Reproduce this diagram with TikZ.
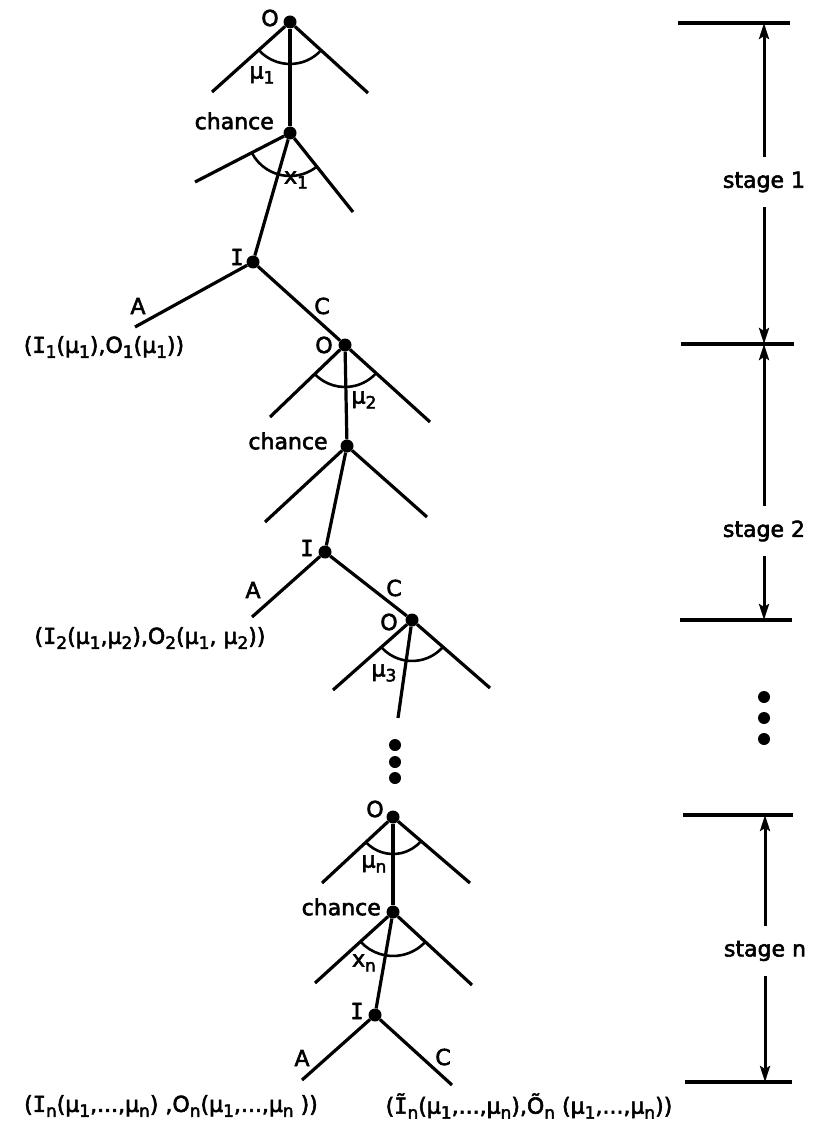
\documentclass[tikz,border=0pt]{standalone}
\usepackage{fontspec}
\setmainfont{DejaVu Sans}[FakeBold=2.5]
\newfontfamily\monof{DejaVu Sans Mono}[FakeBold=2.5]
\usetikzlibrary{arrows.meta,calc}
\newcommand\fs{\fontsize{22}{24}\selectfont}
\newcommand\lo[1]{\raisebox{-5pt}{\fontsize{17}{17}\selectfont #1}}
\newcommand\II{{\monof I}}
\newcommand\IIt{{\monof Ĩ}}
\tikzset{
  dot/.style={circle, fill=black, inner sep=0pt, minimum size=13pt},
  br/.style={line width=3.2pt},
  angarc/.style={line width=2.6pt},
  lab/.style={inner sep=0pt, font=\fs},
  hline/.style={line width=3.2pt},
  arr/.style={line width=3pt, -{Stealth[length=16pt,width=10pt,inset=3pt]}},
  stg/.style={inner sep=0pt, font=\fs, minimum height=50pt},
  vdot/.style={circle, fill=black, inner sep=0pt, minimum size=12pt}
}
\begin{document}
\begin{tikzpicture}[x=1pt,y=1pt]
\useasboundingbox (0,0) rectangle (813,-1131);

% ---------- stage 1 ----------
\node[dot] (o1) at (290,-22) {};
\coordinate (o1L) at (212,-92);
\coordinate (o1R) at (368,-93);
\node[dot] (c1) at (290,-133) {};
\coordinate (c1L) at (195,-182);
\coordinate (c1R) at (353,-212);
\node[dot] (i1) at (253,-262) {};
\coordinate (i1A) at (135,-327);

\draw[br] (o1) -- (o1L);
\draw[br] (o1) -- (o1R);
\draw[br] (o1) -- (c1);
\draw[angarc] ($(o1)+(221.9:42)$) arc[start angle=221.9, end angle=317.7, radius=42];
\node[lab] (o1lab) at (270,-18) {O};
\node[lab] (mu1) at (262,-75) {μ\lo{1}};

\draw[br] (c1) -- (c1L);
\draw[br] (c1) -- (c1R);
\draw[br] (c1) -- (i1);
\draw[angarc] ($(c1)+(207.3:43)$) arc[start angle=207.3, end angle=308.6, radius=43];
\node[lab, anchor=east] (ch1) at (274,-121) {chance};
\node[lab] (x1) at (296,-180) {x\lo{1}};

\node[lab] (i1lab) at (237,-257) {\II};
\draw[br] (i1) -- (i1A);
\node[lab] (a1) at (138,-306) {A};
\node[lab] (res1) at (104,-347) {(\II\lo{1}(μ\lo{1}),O\lo{1}(μ\lo{1}))};

% ---------- stage 2 ----------
\node[dot] (o2) at (345,-345) {};
\draw[br] (i1) -- (o2);
\node[lab] (cl1) at (322,-306) {C};
\coordinate (o2L) at (270,-417);
\coordinate (o2R) at (430,-422);
\node[dot] (c2) at (347,-446) {};
\coordinate (c2L) at (265,-522);
\coordinate (c2R) at (427,-517);
\node[dot] (i2) at (325,-552) {};
\coordinate (i2A) at (252,-617);

\draw[br] (o2) -- (o2L);
\draw[br] (o2) -- (o2R);
\draw[br] (o2) -- (c2);
\draw[angarc] ($(o2)+(223.8:42)$) arc[start angle=223.8, end angle=317.8, radius=42];
\node[lab] (o2lab) at (324,-345) {O};
\node[lab] (mu2) at (364,-400) {μ\lo{2}};

\draw[br] (c2) -- (c2L);
\draw[br] (c2) -- (c2R);
\draw[br] (c2) -- (i2);
\node[lab] (ch2) at (288,-441) {chance};

\node[lab] (i2lab) at (307,-548) {\II};
\draw[br] (i2) -- (i2A);
\node[lab] (a2) at (253,-590) {A};
\node[lab] (res2) at (150,-638) {(\II\lo{2}(μ\lo{1},μ\lo{2}),O\lo{2}(μ\lo{1}, μ\lo{2}))};

% ---------- stage 3 start ----------
\node[dot] (o3) at (412,-620) {};
\draw[br] (i2) -- (o3);
\node[lab] (cl2) at (394,-588) {C};
\coordinate (o3L) at (333,-690);
\coordinate (o3R) at (490,-688);
\coordinate (o3M) at (398,-718);
\draw[br] (o3) -- (o3L);
\draw[br] (o3) -- (o3R);
\draw[br] (o3) -- (o3M);
\draw[angarc] ($(o3)+(221.5:41)$) arc[start angle=221.5, end angle=318.9, radius=41];
\node[lab] (o3lab) at (389,-622) {O};
\node[lab] (mu3) at (384,-673) {μ\lo{3}};

\node[vdot] (d1) at (395,-745) {};
\node[vdot] (d2) at (395,-762) {};
\node[vdot] (d3) at (395,-778) {};

% ---------- stage n ----------
\node[dot] (on) at (393,-817) {};
\coordinate (onL) at (322,-883);
\coordinate (onR) at (470,-883);
\node[dot] (cn) at (393,-912) {};
\coordinate (cnL) at (315,-983);
\coordinate (cnR) at (472,-985);
\node[dot] (in) at (375,-1015) {};
\coordinate (inA) at (302,-1080);
\coordinate (inC) at (452,-1085);

\draw[br] (on) -- (onL);
\draw[br] (on) -- (onR);
\draw[br] (on) -- (cn);
\draw[angarc] ($(on)+(222.9:37)$) arc[start angle=222.9, end angle=319.4, radius=37];
\node[lab] (onlab) at (375,-809) {O};
\node[lab] (mun) at (374,-864) {μ\lo{n}};

\draw[br] (cn) -- (cnL);
\draw[br] (cn) -- (cnR);
\draw[br] (cn) -- (in);
\draw[angarc] ($(cn)+(222.3:44)$) arc[start angle=222.3, end angle=317.3, radius=44];
\node[lab, anchor=east] (chn) at (381,-907) {chance};
\node[lab] (xn) at (364,-963) {x\lo{n}};

\node[lab] (inlab) at (357,-1011) {\II};
\draw[br] (in) -- (inA);
\draw[br] (in) -- (inC);
\node[lab] (an) at (302,-1058) {A};
\node[lab] (cln) at (443,-1057) {C};
\node[lab] (resA) at (171,-1106) {(\II\lo{n}(μ\lo{1},...,μ\lo{n}) ,O\lo{n}(μ\lo{1},...,μ\lo{n} ))};
\node[lab] (resC) at (529,-1106) {(\IIt\lo{n}(μ\lo{1},...,μ\lo{n}),Õ\lo{n} (μ\lo{1},...,μ\lo{n}))};

% ---------- stage scale ----------
\coordinate (h1a) at (678,-23);  \coordinate (h1b) at (790,-23);
\coordinate (h2a) at (681,-344); \coordinate (h2b) at (794,-344);
\coordinate (h3a) at (680,-620); \coordinate (h3b) at (792,-620);
\coordinate (h4a) at (683,-815); \coordinate (h4b) at (793,-815);
\coordinate (h5a) at (685,-1082);\coordinate (h5b) at (792,-1082);
\draw[hline] (h1a) -- (h1b);
\draw[hline] (h2a) -- (h2b);
\draw[hline] (h3a) -- (h3b);
\draw[hline] (h4a) -- (h4b);
\draw[hline] (h5a) -- (h5b);

\node[stg] (s1) at (764,-182) {stage 1};
\node[stg] (s2) at (764,-531) {stage 2};
\node[stg] (sn) at (765,-951) {stage n};
\coordinate (t1) at (764,-23);
\coordinate (b1) at (764,-344);
\coordinate (t2) at (764,-344);
\coordinate (b2) at (764,-620);
\coordinate (t3) at (765,-815);
\coordinate (b3) at (765,-1082);
\draw[arr] (s1.north) -- (t1);
\draw[arr] (s1.south) -- (b1);
\draw[arr] (s2.north) -- (t2);
\draw[arr] (s2.south) -- (b2);
\draw[arr] (sn.north) -- (t3);
\draw[arr] (sn.south) -- (b3);

\node[vdot] (e1) at (764,-697) {};
\node[vdot] (e2) at (764,-718) {};
\node[vdot] (e3) at (764,-739) {};
\end{tikzpicture}
\end{document}
